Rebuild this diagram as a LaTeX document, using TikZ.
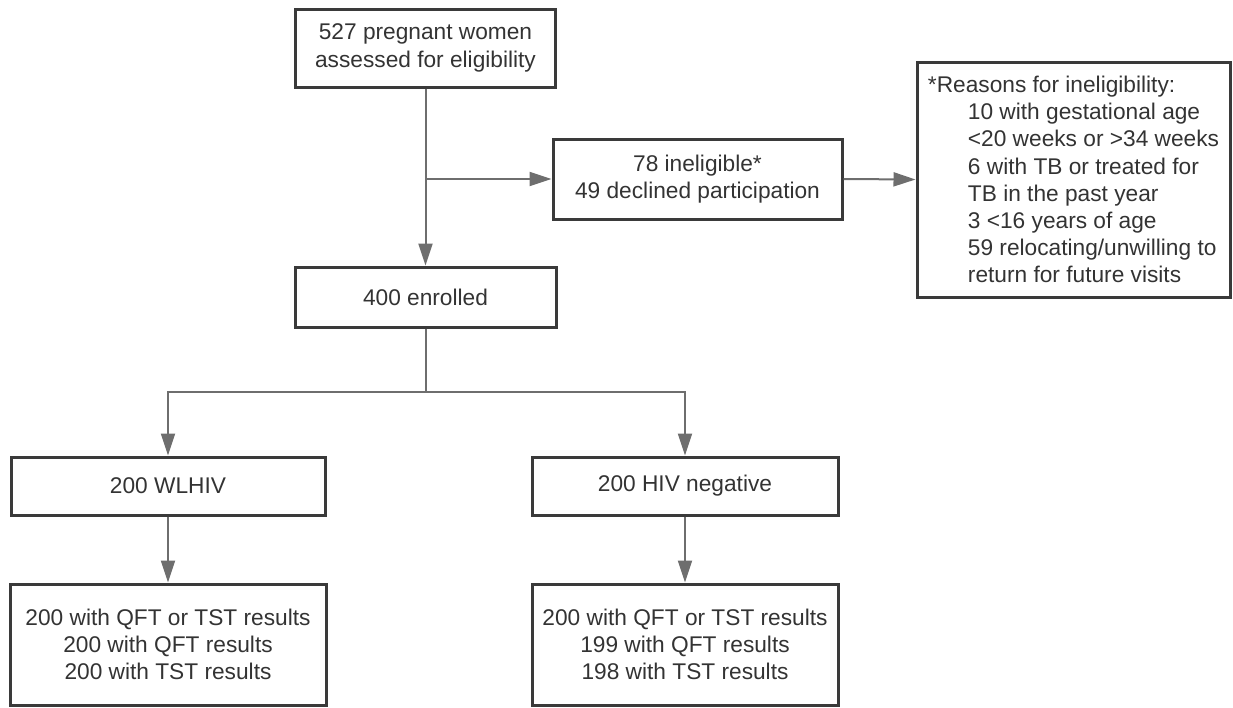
\documentclass[tikz,border=0pt]{standalone}
\usepackage{fontspec}
\setmainfont{Liberation Sans}
\usetikzlibrary{arrows.meta}
\definecolor{boxc}{HTML}{3A3A3A}
\definecolor{linec}{HTML}{6E6E6E}
\definecolor{txtc}{HTML}{333333}
\begin{document}
\begin{tikzpicture}[x=1pt,y=-1pt,
  box/.style={draw=boxc, line width=3pt, text=txtc, font=\fontsize{22.7}{27.2}\selectfont, align=center, inner sep=0pt, rectangle},
  conn/.style={draw=linec, line width=2pt},
  arr/.style={conn, -{Triangle[length=22pt,width=14pt]}}]
\useasboundingbox (0,0) rectangle (1233,707);

\node[box, minimum width=260, minimum height=78] (top) at (425.5,48) {527 pregnant women\\assessed for eligibility};
\node[box, minimum width=289, minimum height=80] (inel) at (697.5,179) {78 ineligible*\\49 declined participation};
\node[box, align=left, minimum width=313, minimum height=235] (rs) at (1073.5,179.5)
  {*Reasons for ineligibility:\\
   \hspace*{40pt}10 with gestational age\\
   \hspace*{40pt}<20 weeks or >34 weeks\\
   \hspace*{40pt}6 with TB or treated for\\
   \hspace*{40pt}TB in the past year\\
   \hspace*{40pt}3 <16 years of age\\
   \hspace*{40pt}59 relocating/unwilling to\\
   \hspace*{40pt}return for future visits};
\node[box, minimum width=261, minimum height=60] (enr) at (425.5,297) {400 enrolled};
\node[box, minimum width=314, minimum height=58] (wl) at (168,486) {200 WLHIV};
\node[box, minimum width=306, minimum height=58] (hn) at (685,486) {200 HIV negative};
\node[box, minimum width=316, minimum height=121] (wlr) at (168,644.5) {200 with QFT or TST results\\200 with QFT results\\200 with TST results};
\node[box, minimum width=306, minimum height=121] (hnr) at (685,644.5) {200 with QFT or TST results\\199 with QFT results\\198 with TST results};

\coordinate (br) at (top.south |- inel.west);
\coordinate (split) at (425.5,392);

\draw[arr] (top.south) -- (enr.north);
\draw[arr] (br) -- (inel.west);
\draw[arr] (inel.east) -- (rs.west);
\draw[conn] (enr.south) -- (split);
\draw[arr] (split) -| (wl.north);
\draw[arr] (split) -| (hn.north);
\draw[arr] (wl.south) -- (wlr.north);
\draw[arr] (hn.south) -- (hnr.north);
\end{tikzpicture}
\end{document}
